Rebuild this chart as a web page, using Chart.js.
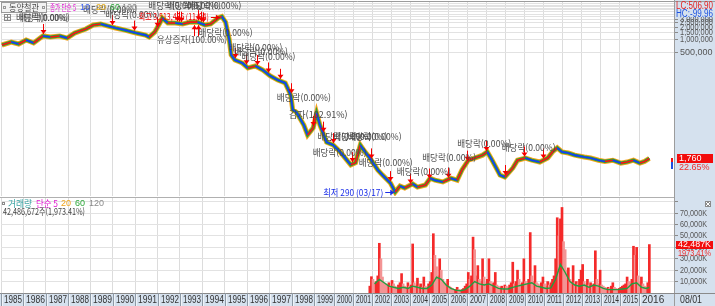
<!DOCTYPE html>
<html lang="ko">
<head>
<meta charset="utf-8">
<title>동양철관</title>
<script src="https://cdn.jsdelivr.net/npm/chart.js@4"></script>
<style>
    body { margin: 0; background: #fff; }
    #wrap { position: relative; width: 715px; height: 306px; overflow: hidden; }
    canvas { position: absolute; left: 0; }
    #priceCanvas { top: 0; }
    #volumeCanvas { top: 198px; }
</style>
</head>
<body>
<div id="wrap">
    <canvas id="priceCanvas" width="715" height="198"></canvas>
    <canvas id="volumeCanvas" width="715" height="108"></canvas>
</div>
<script>
// 연도 / 연간 거래일수 (토요일 장 때문에 1999년 이전이 더 넓음)
const years = [1985, 1986, 1987, 1988, 1989, 1990, 1991, 1992, 1993, 1994, 1995, 1996, 1997, 1998,
    1999, 2000, 2001, 2002, 2003, 2004, 2005, 2006, 2007, 2008, 2009, 2010, 2011, 2012, 2013, 2014, 2015, 2016];
const tradingDays = [291, 291, 291, 291, 291, 291, 291, 291, 291, 291, 291, 291, 291, 291,
    260, 248, 248, 248, 248, 248, 248, 248, 248, 248, 248, 248, 248, 248, 248, 248, 248, 248];

// 종가 (수정주가, 원)
const priceDates = [
    '1985.01', '1985.06', '1985.10', '1986.02', '1986.06', '1986.11', '1987.03', '1987.08', '1987.12',
    '1988.04', '1988.10', '1989.02', '1989.06', '1989.10', '1990.02', '1990.07', '1991.01', '1991.06',
    '1991.08', '1991.11', '1992.02', '1992.03', '1992.06', '1992.10', '1993.02', '1993.06', '1993.10',
    '1994.02', '1994.05', '1994.09', '1994.11', '1995.01', '1995.03', '1995.04', '1995.06', '1995.10',
    '1996.01', '1996.05', '1996.09', '1997.01', '1997.05', '1997.09', '1997.12', '1998.01', '1998.03',
    '1998.07', '1998.09', '1998.12', '1999.02', '1999.04', '1999.08', '1999.12', '2000.03', '2000.06',
    '2000.11', '2001.02', '2001.05', '2001.07', '2001.11', '2002.04', '2002.07', '2002.12', '2003.03',
    '2003.06', '2003.09', '2004.02', '2004.05', '2004.10', '2005.01', '2005.04', '2005.09', '2006.02',
    '2006.06', '2006.09', '2007.01', '2007.05', '2007.10', '2008.01', '2008.04', '2008.09', '2008.12',
    '2009.05', '2009.08', '2010.01', '2010.05', '2010.10', '2011.03', '2011.06', '2011.09', '2011.12',
    '2012.04', '2012.08', '2013.02', '2013.06', '2013.11', '2014.03', '2014.08', '2015.01', '2015.05',
    '2015.09', '2016.01', '2016.04', '2016.07'
];
const priceValues = [
    765000, 898000, 807000, 1000000, 851000, 1240000, 1170000, 1240000, 1110000,
    1450000, 1800000, 2230000, 2360000, 2110000, 1900000, 1700000, 1450000, 1300000,
    1170000, 1530000, 2600000, 3250000, 2490000, 2490000, 2360000, 2600000, 2600000,
    2230000, 2360000, 3250000, 3513436, 2600000, 1000000, 450000, 343000, 291000,
    223000, 249000, 200000, 146000, 117000, 100000, 52000, 24000, 21000,
    10500, 6200, 9000, 20000, 10500, 4200, 3600, 2800, 2100,
    1250, 1400, 3600, 2800, 1800, 950, 720, 470, 290,
    400, 360, 450, 380, 425, 610, 550, 500, 610,
    550, 950, 1600, 1800, 2100, 2500, 1600, 720, 650,
    1050, 1600, 1800, 1600, 1450, 1800, 2500, 3100, 2500,
    2350, 2100, 1900, 1800, 1600, 1500, 1600, 1370, 1450,
    1600, 1370, 1500, 1760
];
const priceTicks = [500000, 1000000, 1500000, 2000000, 2500000, 3000000, 3500000, 4000000,
    4500000, 5000000, 5500000, 6000000, 6500000, 7000000];

// 거래량 (천주, 월별 최대) 2001.11 ~ 2016.07
const volumeStart = '2001.11';
const volumes = [
    6000, 14300,
    12000, 9000, 10000, 15000, 43600, 30000, 14000, 9000, 8000, 7000, 9000, 6000,
    11000, 8000, 6000, 5000, 7000, 9000, 17000, 8000, 6000, 5000, 9000, 6000,
    7000, 43000, 9000, 7000, 13000, 6000, 8000, 5000, 14000, 6000, 5000, 8000,
    10000, 18000, 52000, 33000, 23000, 15000, 30000, 20000, 12000, 9000, 8000, 12000,
    6000, 5000, 4000, 3000, 3000, 5000, 3000, 2000, 3000, 4000, 6000, 8000,
    18000, 12000, 15000, 49000, 38000, 15000, 24000, 12000, 10000, 30000, 14000, 9000,
    12000, 30000, 10000, 8000, 9000, 18000, 7000, 6000, 5000, 6000, 4000, 7000,
    6000, 5000, 7000, 9000, 27000, 8000, 10000, 20000, 12000, 8000, 9000, 30000,
    10000, 8000, 12000, 53000, 15000, 10000, 24000, 9000, 8000, 7000, 9000, 14000,
    8000, 6000, 10000, 7000, 9000, 12000, 15000, 30000, 66000, 50000, 65000, 75000,
    45000, 38000, 20000, 22000, 12000, 10000, 24000, 9000, 10000, 8000, 12000, 20000,
    25000, 10000, 8000, 12000, 7000, 9000, 6000, 8000, 37000, 12000, 8000, 20000,
    7000, 6000, 5000, 4000, 5000, 4000, 6000, 9000, 5000, 4000, 3000, 4000,
    5000, 6000, 7000, 8000, 14000, 10000, 9000, 12000, 41000, 33000, 40000, 15000,
    10000, 14000, 8000, 6000, 5000, 9000, 42487
];
// 거래량 이동평균(60) 분기별 판독값
const volumeMaDates = [
    '2002.02', '2002.05', '2002.08', '2002.11', '2003.02', '2003.05', '2003.08', '2003.11',
    '2004.02', '2004.05', '2004.08', '2004.11', '2005.02', '2005.05', '2005.08', '2005.11',
    '2006.02', '2006.05', '2006.08', '2006.11', '2007.02', '2007.05', '2007.08', '2007.11',
    '2008.02', '2008.05', '2008.08', '2008.11', '2009.02', '2009.05', '2009.08', '2009.11',
    '2010.02', '2010.05', '2010.08', '2010.11', '2011.02', '2011.05', '2011.08', '2011.11',
    '2012.02', '2012.05', '2012.08', '2012.11', '2013.02', '2013.05', '2013.08', '2013.11',
    '2014.02', '2014.05', '2014.08', '2014.11', '2015.02', '2015.05', '2015.08', '2015.11',
    '2016.02', '2016.05', '2016.07'
];
const volumeMaValues = [
    8000, 12000, 9000, 6000, 5000, 4000, 5000, 4000,
    6000, 5000, 4000, 4000, 7000, 14000, 12000, 7000,
    4000, 2500, 2000, 3000, 6000, 10000, 8000, 7000,
    8000, 6000, 4000, 3500, 3500, 5000, 6000, 7000,
    8000, 9000, 6000, 5000, 4000, 4500, 12000, 25000,
    18000, 10000, 7000, 6000, 7000, 5000, 7000, 6000,
    4000, 3000, 3000, 3000, 3500, 4000, 8000, 9000,
    5000, 4000, 5000
];
const volumeTicks = [10000, 20000, 30000, 40000, 50000, 60000, 70000, 80000];

// 이벤트 표시 (날짜, 글자 위치의 가격 수준, 내용)
const noteDates = ['1986.11', '1989.11', '1990.11', '1992.10', '1993.08', '1994.07', '1993.07', '1995.01',
    '1996.05', '1996.08', '1996.12', '1998.07', '1999.03', '2000.07', '2001.05', '2002.02', '2000.04',
    '2002.09', '2004.09', '2006.01', '2007.11', '2010.03'];
const noteLevels = [3250000, 4980000, 3810000, 6170000, 6170000, 6170000, 1000000, 1450000,
    652000, 526000, 403000, 44600, 18200, 5550, 5550, 5550, 2350,
    1380, 860, 1800, 4000, 3100];
const noteTexts = ['배당락(0.00%)', '배당락(0.00%)', '배당락(0.00%)', '배당락(0.00%)', '배당락(0.00%)',
    '배당락(0.00%)', '유상증자(100.00%)', '배당락(0.00%)', '배당락(0.00%)', '배당락(0.00%)', '배당락(0.00%)',
    '배당락(0.00%)', '감자(102.91%)', '배당락(0.00%)', '배당락(0.00%)', '배당락(0.00%)', '배당락(0.00%)',
    '배당락(0.00%)', '배당락(0.00%)', '배당락(0.00%)', '배당락(0.00%)', '배당락(0.00%)'];
const dropMarkDates = ['1986.11', '1989.12', '1990.12', '1991.12', '1992.11', '1992.12', '1993.01',
    '1993.10', '1993.12', '1994.01', '1995.06', '1995.12', '1996.06', '1996.12', '1997.06', '1997.12',
    '1998.12', '1999.06', '1999.12', '2000.12', '2001.12', '2002.12', '2003.12', '2004.12', '2005.12',
    '2006.12', '2007.12', '2008.12', '2009.12', '2010.12'];
const riseMarkDates = ['1993.08', '1993.10'];

const PANEL_BG = '#d5e1ee';
const GRID = '#dcdcdc';
const KR = '"Noto Sans CJK KR", sans-serif';
const NUM = '"Liberation Sans Narrow", "Liberation Sans", sans-serif';

// 날짜 -> 거래일 인덱스
const yearStarts = [];
let dayCount = 0;
tradingDays.forEach(d => { yearStarts.push(dayCount); dayCount += d; });
const X_MAX = 8757;

function dayOf(date) {
    const [y, m] = date.split('.').map(Number);
    const i = years.indexOf(y);
    return yearStarts[i] + (m - 0.5) / 12 * tradingDays[i];
}

function monthShift(date, n) {
    const [y, m] = date.split('.').map(Number);
    const t = y * 12 + (m - 1) + n;
    return Math.floor(t / 12) + '.' + String(t % 12 + 1).padStart(2, '0');
}

const pricePoints = priceDates.map((d, i) => ({ x: dayOf(d), y: priceValues[i] }));
const volumePoints = volumes.map((v, i) => ({ x: dayOf(monthShift(volumeStart, i)), y: v }));
const volumeColors = volumes.map((v, i) => (i === 0 || v >= volumes[i - 1]) ? '#f42a2a' : '#f39494');
const volumeMaPoints = volumeMaDates.map((d, i) => ({ x: dayOf(d), y: volumeMaValues[i] }));

// 선 위의 픽셀 y (표시용 보간)
function lineYAt(day, yScale) {
    for (let i = 0; i < pricePoints.length - 1; i++) {
        const a = pricePoints[i], b = pricePoints[i + 1];
        if (day >= a.x && day <= b.x) {
            const t = (day - a.x) / (b.x - a.x);
            const v = Math.pow(10, Math.log10(a.y) + t * (Math.log10(b.y) - Math.log10(a.y)));
            return yScale.getPixelForValue(v);
        }
    }
    return yScale.getPixelForValue(pricePoints[pricePoints.length - 1].y);
}

function hline(ctx, x1, x2, y, color) {
    ctx.strokeStyle = color; ctx.lineWidth = 1;
    ctx.beginPath(); ctx.moveTo(x1, y); ctx.lineTo(x2, y); ctx.stroke();
}
function vline(ctx, x, y1, y2, color) {
    ctx.strokeStyle = color; ctx.lineWidth = 1;
    ctx.beginPath(); ctx.moveTo(x, y1); ctx.lineTo(x, y2); ctx.stroke();
}
function label(ctx, str, x, y, color, font, maxW, align) {
    ctx.font = font;
    ctx.fillStyle = color;
    ctx.textAlign = align || 'left';
    ctx.textBaseline = 'middle';
    if (maxW) ctx.fillText(str, x, y, maxW); else ctx.fillText(str, x, y);
}
function vArrow(ctx, x, yFrom, yTo, color) {
    const px = Math.round(x) + 0.5;
    const dir = yTo > yFrom ? 1 : -1;
    vline(ctx, px, yFrom, yTo, color);
    ctx.fillStyle = color;
    ctx.beginPath();
    ctx.moveTo(px - 3, yTo - 4 * dir); ctx.lineTo(px + 3, yTo - 4 * dir); ctx.lineTo(px, yTo);
    ctx.closePath(); ctx.fill();
}
function hArrow(ctx, xFrom, xTo, y, color) {
    const py = Math.round(y) + 0.5;
    hline(ctx, xFrom, xTo, py, color);
    ctx.fillStyle = color;
    ctx.beginPath();
    ctx.moveTo(xTo - 4, py - 3); ctx.lineTo(xTo - 4, py + 3); ctx.lineTo(xTo, py);
    ctx.closePath(); ctx.fill();
}

const xScaleOptions = {
    type: 'linear',
    min: 0,
    max: X_MAX,
    offset: false,
    afterBuildTicks: scale => { scale.ticks = yearStarts.map(v => ({ value: v })); },
    afterFit: scale => { scale.height = 0; },
    ticks: { display: false },
    grid: { color: GRID, drawTicks: false, offset: false },
    border: { display: false }
};

// 가격 패널
const pricePanel = {
    id: 'pricePanel',
    beforeDraw(chart) {
        const { ctx, chartArea: a } = chart;
        ctx.save();
        ctx.fillStyle = '#fff';
        ctx.fillRect(0, 0, 715, 198);
        ctx.fillStyle = PANEL_BG;
        ctx.fillRect(a.right, 0, 715 - a.right, 198);
        ctx.restore();
    },
    afterDraw(chart) {
        const { ctx, chartArea: a, scales: { x, y } } = chart;
        ctx.save();
        hline(ctx, 0, 715, 1.5, '#9c9c9c');
        vline(ctx, a.right + 0.5, 0, 198, '#9c9c9c');
        hline(ctx, 0, a.right, 197.5, '#b0b0b0');

        // 오른쪽 축 글자
        priceTicks.filter(v => v <= 3000000).forEach(v => {
            label(ctx, v.toLocaleString('en-US'), a.right + 6, y.getPixelForValue(v), '#555', '9px ' + NUM, 33);
        });
        ctx.fillStyle = PANEL_BG;
        ctx.fillRect(a.right + 1, 2, 40, 15);
        label(ctx, 'LC:506.90', a.right + 2, 6, '#e52222', '10px ' + NUM, 37);
        label(ctx, 'HC:-99.96', a.right + 2, 14, '#1d52e0', '10px ' + NUM, 37);

        // 현재가
        const last = priceValues[priceValues.length - 1];
        const ly = y.getPixelForValue(last);
        ctx.fillStyle = '#f20c0c';
        ctx.fillRect(a.right + 3, Math.round(ly) - 4, 36, 9);
        label(ctx, last.toLocaleString('en-US'), a.right + 5, ly + 0.5, '#fff', '9px ' + NUM, 32);
        label(ctx, '22.65%', a.right + 5, ly + 9, '#ee3030', '9px ' + NUM, 32);
        ctx.fillStyle = '#f01010';
        ctx.fillRect(a.right - 3, Math.round(ly), 2, 4);
        ctx.fillStyle = '#1d4ee0';
        ctx.fillRect(a.right - 3, Math.round(ly) + 4, 2, 7);

        // 이벤트 화살표
        dropMarkDates.forEach(d => {
            const day = dayOf(d);
            const px = x.getPixelForValue(day);
            const py = lineYAt(day, y);
            vArrow(ctx, px, py - 12, py - 2, '#f40000');
        });
        riseMarkDates.forEach(d => {
            const day = dayOf(d);
            const px = x.getPixelForValue(day);
            const py = lineYAt(day, y);
            vArrow(ctx, px, py + 14, py + 3, '#f40000');
        });

        // 이벤트 글자
        noteTexts.forEach((t, i) => {
            const px = x.getPixelForValue(dayOf(noteDates[i]));
            const py = y.getPixelForValue(noteLevels[i]);
            label(ctx, t, px, py, '#4a4a4a', '9px ' + KR, t.length * 5.4, 'center');
        });

        // 최고 / 최저
        let hi = 0, lo = 0;
        priceValues.forEach((v, i) => {
            if (v > priceValues[hi]) hi = i;
            if (v < priceValues[lo]) lo = i;
        });
        const hx = x.getPixelForValue(pricePoints[hi].x);
        const hy = y.getPixelForValue(pricePoints[hi].y);
        hArrow(ctx, hx - 11, hx - 2, hy, '#f00000');
        label(ctx, '최고 ' + priceValues[hi].toLocaleString('en-US') + ' (11/04)', hx - 13, hy, '#f00000',
            '9px ' + KR, 70, 'right');
        const lx = x.getPixelForValue(pricePoints[lo].x);
        const lyy = y.getPixelForValue(pricePoints[lo].y);
        hArrow(ctx, lx - 10, lx - 1, lyy, '#1a2ee8');
        label(ctx, '최저 ' + priceValues[lo] + ' (03/17)', lx - 12, lyy, '#1a2ee8', '9px ' + KR, 60, 'right');

        // 범례
        ctx.fillStyle = '#f2f2f2';
        ctx.fillRect(1, 2, 46, 11);
        ctx.strokeStyle = '#9a9a9a';
        ctx.strokeRect(1.5, 2.5, 45, 10);
        ctx.strokeRect(3.5, 6.5, 2, 2);
        ctx.strokeRect(42.5, 6.5, 2, 2);
        label(ctx, '동양철관', 9, 8, '#4a4a4a', '9px ' + KR, 30);
        label(ctx, '종가 단순 5', 50, 8, '#e21ad2', '9px ' + KR, 26);
        label(ctx, '10', 80, 8, '#3a5ef0', '9px ' + NUM);
        label(ctx, '20', 96, 8, '#f0b41a', '9px ' + NUM);
        label(ctx, '60', 110, 8, '#2ea83a', '9px ' + NUM);
        label(ctx, '120', 122, 8, '#8a8a8a', '9px ' + NUM);
        ctx.strokeStyle = '#8a8a8a';
        ctx.strokeRect(4.5, 14.5, 6, 6);
        vline(ctx, 7.5, 15, 20, '#8a8a8a');
        hline(ctx, 5, 10, 17.5, '#8a8a8a');
        label(ctx, '배당락(0.00%)', 20, 18, '#4a4a4a', '9px ' + KR, 48);
        ctx.restore();
    }
};

new Chart(document.getElementById('priceCanvas'), {
    type: 'line',
    data: {
        datasets: [
            { data: pricePoints, borderColor: '#f7a21b', borderWidth: 5, pointRadius: 0, order: 3 },
            { data: pricePoints, borderColor: '#26a23c', borderWidth: 3.2, pointRadius: 0, order: 2 },
            {
                data: pricePoints, borderWidth: 1.6, pointRadius: 0, order: 1,
                segment: { borderColor: c => c.p1.parsed.y >= c.p0.parsed.y ? '#ff1212' : '#1838ff' }
            }
        ]
    },
    options: {
        responsive: false,
        animation: false,
        devicePixelRatio: 1,
        events: [],
        layout: { padding: { left: 1, top: 2, bottom: 2, right: 0 } },
        plugins: { legend: { display: false }, tooltip: { enabled: false } },
        scales: {
            x: xScaleOptions,
            y: {
                type: 'logarithmic',
                position: 'right',
                min: 235.5,
                max: 7650000,
                afterBuildTicks: scale => { scale.ticks = priceTicks.map(v => ({ value: v })); },
                afterFit: scale => { scale.width = 41; },
                ticks: { display: false },
                grid: { color: '#e2e2e2', tickLength: 4, tickColor: '#8a8a8a' },
                border: { display: false }
            }
        }
    },
    plugins: [pricePanel]
});

// 거래량 패널 + 날짜 축
const volumePanel = {
    id: 'volumePanel',
    beforeDraw(chart) {
        const { ctx, chartArea: a } = chart;
        ctx.save();
        ctx.fillStyle = '#fff';
        ctx.fillRect(0, 0, 715, 108);
        ctx.fillStyle = PANEL_BG;
        ctx.fillRect(a.right, 0, 715 - a.right, 108);
        ctx.fillRect(0, a.bottom, 715, 108 - a.bottom);
        ctx.restore();
    },
    afterDraw(chart) {
        const { ctx, chartArea: a, scales: { x, y } } = chart;
        ctx.save();
        vline(ctx, a.right + 0.5, 0, 108, '#9c9c9c');
        hline(ctx, 0, 715, a.bottom + 0.5, '#8a8a8a');

        // 날짜 축
        years.forEach((yr, i) => {
            const x0 = Math.round(x.getPixelForValue(yearStarts[i]));
            const x1 = i < years.length - 1 ? Math.round(x.getPixelForValue(yearStarts[i + 1])) : a.right;
            vline(ctx, x0 + 0.5, a.bottom, 108, '#8e9aa6');
            vline(ctx, x0 + 1.5, a.bottom + 1, 108, '#eef3f8');
            label(ctx, String(yr), x0 + 3, a.bottom + 7, '#333', '10px ' + NUM, Math.max(8, x1 - x0 - 4));
        });
        label(ctx, '08/01', a.right + 6, a.bottom + 7, '#333', '10px ' + NUM, 22);

        // 오른쪽 축 글자
        volumeTicks.filter(v => v <= 70000).forEach(v => {
            label(ctx, v.toLocaleString('en-US') + 'K', a.right + 6, y.getPixelForValue(v), '#555', '9px ' + NUM, 27);
        });
        const lastVol = volumes[volumes.length - 1];
        const vy = y.getPixelForValue(lastVol);
        ctx.fillStyle = '#f20c0c';
        ctx.fillRect(a.right + 2, Math.round(vy) - 4, 37, 8);
        label(ctx, lastVol.toLocaleString('en-US') + 'K', a.right + 4, vy, '#fff', '9px ' + NUM, 33);
        label(ctx, '1973.41%', a.right + 4, vy + 9, '#ee3030', '9px ' + NUM, 33);

        // 닫기 버튼
        ctx.fillStyle = '#8a8a8a';
        ctx.fillRect(a.right + 31, 3, 6, 6);
        ctx.strokeStyle = '#fff';
        ctx.beginPath();
        ctx.moveTo(a.right + 32, 4); ctx.lineTo(a.right + 36, 8);
        ctx.moveTo(a.right + 36, 4); ctx.lineTo(a.right + 32, 8);
        ctx.stroke();

        // 범례
        ctx.strokeStyle = '#8a8a8a';
        ctx.strokeRect(2.5, 4.5, 2, 2);
        label(ctx, '거래량', 8, 6, '#35a2a2', '9px ' + KR, 24);
        label(ctx, '단순 5', 36, 6, '#e21ad2', '9px ' + KR, 22);
        label(ctx, '20', 61, 6, '#f0a41a', '9px ' + NUM);
        label(ctx, '60', 75, 6, '#2ea83a', '9px ' + NUM);
        label(ctx, '120', 89, 6, '#8a8a8a', '9px ' + NUM);
        label(ctx, '42,486,672주(1,973.41%)', 3, 14, '#444', '9px ' + KR, 82);
        ctx.restore();
    }
};

new Chart(document.getElementById('volumeCanvas'), {
    type: 'bar',
    data: {
        datasets: [
            {
                type: 'line', data: volumeMaPoints, borderColor: '#20a040', borderWidth: 1.4,
                pointRadius: 0, order: 0
            },
            {
                data: volumePoints, backgroundColor: volumeColors, barThickness: 2,
                grouped: false, order: 1
            }
        ]
    },
    options: {
        responsive: false,
        animation: false,
        devicePixelRatio: 1,
        events: [],
        layout: { padding: { left: 1, top: 0, bottom: 13, right: 0 } },
        plugins: { legend: { display: false }, tooltip: { enabled: false } },
        scales: {
            x: xScaleOptions,
            y: {
                type: 'linear',
                position: 'right',
                min: 0,
                max: 83300,
                afterBuildTicks: scale => { scale.ticks = volumeTicks.map(v => ({ value: v })); },
                afterFit: scale => { scale.width = 41; },
                ticks: { display: false },
                grid: { color: '#e2e2e2', tickLength: 4, tickColor: '#8a8a8a' },
                border: { display: false }
            }
        }
    },
    plugins: [volumePanel]
});
</script>
</body>
</html>
